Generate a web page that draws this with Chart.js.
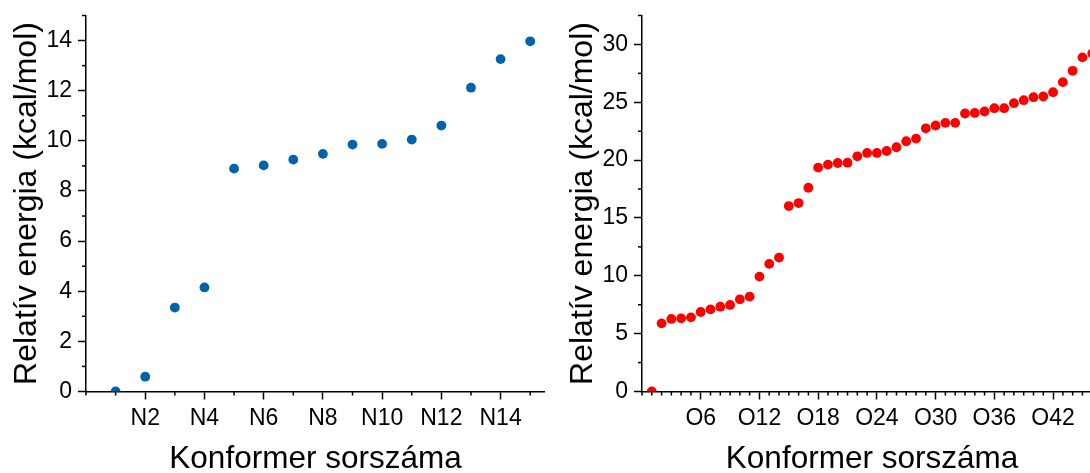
<!DOCTYPE html>
<html>
<head>
<meta charset="utf-8">
<script src="https://cdn.jsdelivr.net/npm/chart.js@4"></script>
<style>
  html, body { margin: 0; padding: 0; background: #fff; overflow: hidden; }
  body { width: 1090px; height: 473px; position: relative; }
  canvas { position: absolute; top: 0; }
  #left-chart { left: 0; }
  #right-chart { left: 545px; }
</style>
</head>
<body>
<canvas id="left-chart" width="545" height="473"></canvas>
<canvas id="right-chart" width="557" height="473"></canvas>
<script>
const nCategories = ['N1','N2','N3','N4','N5','N6','N7','N8','N9','N10','N11','N12','N13','N14','N15'];
const nValues = [0, 0.59, 3.35, 4.15, 8.89, 9.02, 9.25, 9.48, 9.85, 9.88, 10.05, 10.61, 12.12, 13.26, 13.97];
const nXLabels = ['N2','N4','N6','N8','N10','N12','N14'];
const nYLabels = [0, 2, 4, 6, 8, 10, 12, 14];

const oCategories = ['O1','O2','O3','O4','O5','O6','O7','O8','O9','O10','O11','O12','O13','O14','O15','O16',
  'O17','O18','O19','O20','O21','O22','O23','O24','O25','O26','O27','O28','O29','O30','O31','O32',
  'O33','O34','O35','O36','O37','O38','O39','O40','O41','O42','O43','O44','O45','O46'];
const oValues = [0, 5.89, 6.27, 6.32, 6.41, 6.87, 7.1, 7.33, 7.48, 7.97, 8.2, 9.93, 11.03, 11.58, 16.03, 16.29,
  17.61, 19.35, 19.61, 19.75, 19.78, 20.33, 20.62, 20.62, 20.79, 21.11, 21.63, 21.86, 22.75, 22.99, 23.22, 23.22,
  24.03, 24.08, 24.2, 24.49, 24.49, 24.92, 25.18, 25.44, 25.5, 25.87, 26.74, 27.72, 28.88, 29.22];
const oXLabels = ['O6','O12','O18','O24','O30','O36','O42'];
const oYLabels = [0, 5, 10, 15, 20, 25, 30];

const FONT = 'Arial, "Liberation Sans", sans-serif';
const CANVAS_H = 473;
const AXIS_Y = 391.5;

// short ticks for the unlabeled positions
const minorTicks = {
  id: 'minorTicks',
  afterDraw(chart) {
    const ctx = chart.ctx;
    ctx.save();
    ctx.strokeStyle = '#000';
    ctx.lineWidth = 1.5;
    const xs = chart.scales.x, ys = chart.scales.y;
    xs.ticks.forEach(t => {
      if (t.label !== '') return;
      const px = xs.getPixelForValue(t.value);
      ctx.beginPath();
      ctx.moveTo(px, xs.top);
      ctx.lineTo(px, xs.top + 4);
      ctx.stroke();
    });
    ys.ticks.forEach(t => {
      if (t.label !== '') return;
      const py = ys.getPixelForValue(t.value);
      ctx.beginPath();
      ctx.moveTo(ys.right, py);
      ctx.lineTo(ys.right - 4, py);
      ctx.stroke();
    });
    ctx.restore();
  }
};

function makeChart(id, cats, vals, xLabels, yLabels, color, cfg) {
  const points = vals.map((v, i) => ({ x: i + 1, y: v }));
  return new Chart(document.getElementById(id), {
    type: 'scatter',
    data: {
      datasets: [{
        data: points,
        backgroundColor: color,
        borderWidth: 0,
        pointRadius: 4.9,
        pointHoverRadius: 4.9
      }]
    },
    options: {
      responsive: false,
      animation: false,
      devicePixelRatio: 1,
      layout: { autoPadding: false, padding: { top: 15.5, right: 0, bottom: 0, left: 0 } },
      plugins: { legend: { display: false }, tooltip: { enabled: false } },
      scales: {
        x: {
          type: 'linear',
          min: 0,
          max: cfg.xMax,
          afterFit: s => {
            s.height = CANVAS_H - AXIS_Y;
            s.paddingLeft = 0;
            s.paddingRight = 0;
          },
          border: { color: '#000', width: 1.5 },
          grid: {
            drawOnChartArea: false,
            tickLength: 8,
            tickWidth: 1.5,
            tickColor: c => (c.tick && c.tick.label !== '') ? '#000' : 'rgba(0,0,0,0)'
          },
          ticks: {
            stepSize: 1,
            autoSkip: false,
            includeBounds: false,
            maxRotation: 0,
            padding: 5,
            color: '#000',
            font: { family: FONT, size: 23 },
            callback: v => {
              const c = cats[v - 1];
              return (c && xLabels.includes(c)) ? c : '';
            }
          },
          title: {
            display: true,
            text: 'Konformer sorszáma',
            color: '#000',
            font: { family: FONT, size: 31.5, lineHeight: 1 },
            padding: { top: 0, bottom: -2 }
          }
        },
        y: {
          min: 0,
          max: cfg.yMax,
          afterFit: s => {
            s.width = cfg.yWidth;
            s.paddingTop = 0;
            s.paddingBottom = 0;
          },
          border: { color: '#000', width: 1.5 },
          grid: {
            drawOnChartArea: false,
            tickLength: 8,
            tickWidth: 1.5,
            tickColor: c => (c.tick && c.tick.label !== '') ? '#000' : 'rgba(0,0,0,0)'
          },
          ticks: {
            stepSize: cfg.yStep,
            autoSkip: false,
            includeBounds: false,
            padding: 6,
            color: '#000',
            font: { family: FONT, size: 23 },
            callback: v => yLabels.includes(v) ? String(v) : ''
          },
          title: {
            display: true,
            text: 'Relatív energia (kcal/mol)',
            color: '#000',
            font: { family: FONT, size: 32, lineHeight: 1 },
            padding: { top: cfg.titlePad, bottom: 0 }
          }
        }
      }
    },
    plugins: [minorTicks]
  });
}

makeChart('left-chart', nCategories, nValues, nXLabels, nYLabels, '#0063ac',
  { xMax: 15.5, yMax: 15, yStep: 1, yWidth: 86, titlePad: 11 });
makeChart('right-chart', oCategories, oValues, oXLabels, oYLabels, '#ff0000',
  { xMax: 47, yMax: 32.5, yStep: 2.5, yWidth: 97, titlePad: 22 });
</script>
</body>
</html>
